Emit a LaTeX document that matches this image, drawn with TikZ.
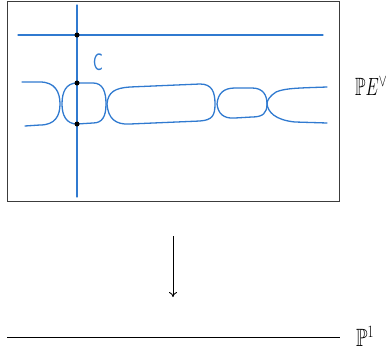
\documentclass[tikz,border=0pt]{standalone}
\usepackage{amssymb}
\usetikzlibrary{arrows.meta}
\definecolor{curveblue}{RGB}{48,122,208}
\definecolor{framegray}{RGB}{60,60,60}
\tikzset{
  curve/.style={draw=curveblue,line width=1.3pt,line cap=round,line join=round},
  frame/.style={draw=framegray,line width=1pt},
  blackline/.style={draw=black,line width=0.9pt},
  pt/.style={circle,fill=black,inner sep=0pt,minimum size=5pt},
  lbl/.style={inner sep=0pt,font=\fontsize{25}{28}\selectfont}
}
\begin{document}
\begin{tikzpicture}[x=1pt,y=-1pt]
\useasboundingbox (0,0) rectangle (391,356);
% frame
\draw[frame] (7,1) rectangle (339,201);
% lines
\coordinate (vtop) at (77,5);
\coordinate (vbot) at (77,197);
\coordinate (hl) at (18,35);
\coordinate (hr) at (323,35);
\draw[curve] (vtop) -- (vbot);
\draw[curve] (hl) -- (hr);
% chain of curves
\draw[curve] (22,82) -- (40,82) .. controls (55,82) and (60,92) .. (60,104)
  .. controls (60,116) and (55,125) .. (40,125) -- (25,126);
\draw[curve] (77,83) -- (93,83) .. controls (103,83) and (106,92) .. (106,104)
  .. controls (106,117) and (102,123) .. (93,123) -- (77,124)
  .. controls (66,124) and (62,115) .. (62,104)
  .. controls (62,92) and (66,83) .. (77,83);
\draw[curve] (107,104) .. controls (108,92) and (115,88) .. (130,87) -- (200,84)
  .. controls (212,84) and (215,92) .. (215,104)
  .. controls (215,116) and (212,120) .. (200,121) -- (130,124)
  .. controls (115,125) and (108,118) .. (107,104);
\draw[curve] (217,104) .. controls (218,93) and (224,88) .. (235,88) -- (252,88)
  .. controls (263,88) and (267,95) .. (267,104)
  .. controls (267,113) and (263,117) .. (252,117) -- (235,118)
  .. controls (223,119) and (218,113) .. (217,104);
\draw[curve] (327,87) .. controls (300,88) and (285,88) .. (276,92)
  .. controls (270,96) and (267,100) .. (267,104)
  .. controls (268,112) and (275,120) .. (295,122) -- (327,123);
% points
\node[pt] (p1) at (77,35) {};
\node[pt] (p2) at (77,83) {};
\node[pt] (p3) at (77,124) {};
% labels
\node[lbl,text=curveblue,font=\sffamily\fontsize{24}{28}\selectfont] (c) at (98,62) {\scalebox{0.7}[1]{C}};
\node[lbl,anchor=west] (pe) at (355,86) {\scalebox{0.68}[1]{$\mathbb{P}E^\vee$}};
% arrow
\coordinate (atop) at (173,236);
\coordinate (abot) at (173,297);
\draw[blackline,-{To[length=5pt,width=8pt]}] (atop) -- (abot);
% base line
\coordinate (bl) at (7,337);
\coordinate (br) at (340,337);
\draw[blackline] (bl) -- (br);
\node[lbl,anchor=west] (p1lbl) at (356,336) {\scalebox{0.75}[1]{$\mathbb{P}^1$}};
\end{tikzpicture}
\end{document}
